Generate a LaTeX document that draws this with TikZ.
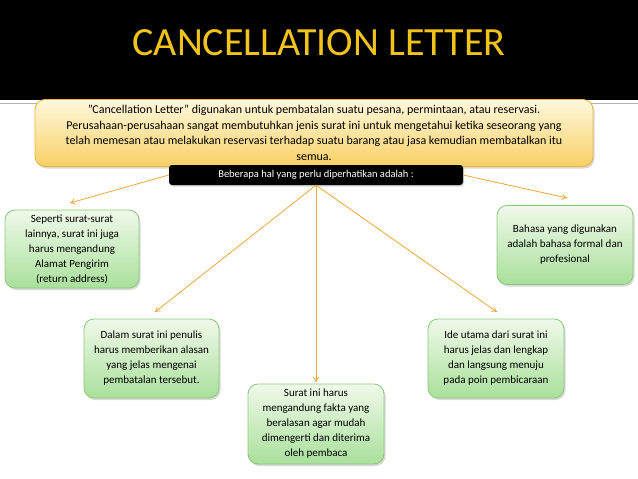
\documentclass[tikz,border=0pt]{standalone}
\usepackage{fontspec}
\setmainfont{Carlito}
\usetikzlibrary{shadows,arrows.meta}
\definecolor{titlegold}{HTML}{F2C31A}
\definecolor{arrowc}{HTML}{E9A93E}
\definecolor{greentop}{HTML}{F0F9EA}
\definecolor{greenbot}{HTML}{A9E09B}
\definecolor{greenline}{HTML}{8DC97C}
\definecolor{yeltop}{HTML}{FFF8DE}
\definecolor{yelbot}{HTML}{F8D064}
\definecolor{yelline}{HTML}{EDB43C}
\tikzset{
  greenbox/.style={draw=greenline, line width=0.8pt, rounded corners=10pt,
    top color=greentop, bottom color=greenbot, align=center,
    font=\fontsize{11}{15}\selectfont, inner sep=0pt,
    drop shadow={shadow xshift=1.5pt, shadow yshift=-2pt, opacity=0.3}},
  conn/.style={draw=arrowc, line width=0.8pt, -{To[length=5pt,width=6pt]}}
}
\begin{document}
\begin{tikzpicture}[x=1pt,y=-1pt]
\useasboundingbox (0,0) rectangle (638,479);
\fill[white] (0,0) rectangle (638,479);
\fill[black] (0,0) rectangle (638,100);
\draw[gray!60, line width=0.6pt] (0,103) -- (638,103);
\node[text=titlegold, font=\fontsize{40}{44}\selectfont] (title) at (319,43) {CANCELLATION LETTER};
\node[draw=yelline, line width=0.8pt, rounded corners=10pt, top color=yeltop, bottom color=yelbot,
  minimum width=558pt, minimum height=67pt, inner sep=0pt, align=center,
  font=\fontsize{12}{15.5}\selectfont,
  drop shadow={shadow xshift=1.5pt, shadow yshift=-2pt, opacity=0.3}] (intro) at (314,133)
  {"Cancellation Letter” digunakan untuk pembatalan suatu pesana, permintaan, atau reservasi.\\
   Perusahaan-perusahaan sangat membutuhkan jenis surat ini untuk mengetahui ketika seseorang yang\\
   telah memesan atau melakukan reservasi terhadap suatu barang atau jasa kemudian membatalkan itu\\
   semua.};
\node[fill=black, rounded corners=3pt, minimum width=294pt, minimum height=20pt, inner sep=0pt,
  text=white, font=\fontsize{10.5}{12}\selectfont,
  drop shadow={shadow xshift=1pt, shadow yshift=-1.5pt, opacity=0.3}] (lab) at (316,175)
  {Beberapa hal yang perlu diperhatikan adalah :};
\node[greenbox, minimum width=134pt, minimum height=78pt] (b1) at (72,249)
  {Seperti surat-surat\\lainnya, surat ini juga\\harus mengandung\\Alamat Pengirim\\(return address)};
\node[greenbox, minimum width=136pt, minimum height=79pt] (b2) at (565,245)
  {Bahasa yang digunakan\\adalah bahasa formal dan\\profesional};
\node[greenbox, minimum width=135pt, minimum height=79pt] (b3) at (151.5,358.5)
  {Dalam surat ini penulis\\harus memberikan alasan\\yang jelas mengenai\\pembatalan tersebut.};
\node[greenbox, minimum width=136pt, minimum height=80pt] (b4) at (316,424)
  {Surat ini harus\\mengandung fakta yang\\beralasan agar mudah\\dimengerti dan diterima\\oleh pembaca};
\node[greenbox, minimum width=136pt, minimum height=79pt] (b5) at (496,358.5)
  {Ide utama dari surat ini\\harus jelas dan lengkap\\dan langsung menuju\\pada poin pembicaraan};
\coordinate (t1) at (70,203);
\coordinate (t2) at (567,198);
\coordinate (t3) at (155,312);
\coordinate (t4) at (316,382);
\coordinate (t5) at (497,312);
\draw[conn] (lab.west) -- (t1);
\draw[conn] (lab.east) -- (t2);
\draw[conn] (lab.south) -- (t3);
\draw[conn] (lab.south) -- (t4);
\draw[conn] (lab.south) -- (t5);
\end{tikzpicture}
\end{document}
